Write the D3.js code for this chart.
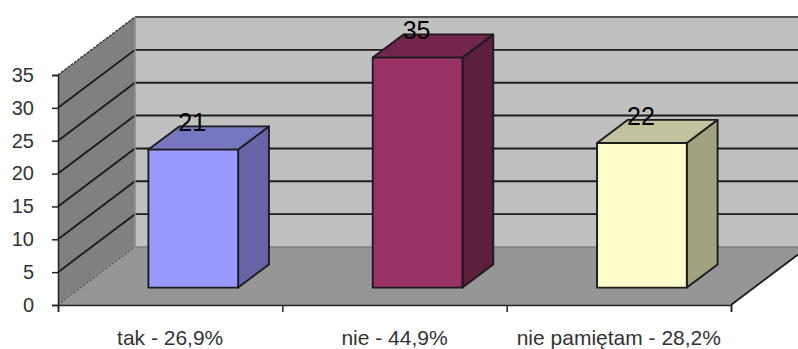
<!DOCTYPE html>
<html>
<head>
<meta charset="utf-8">
<script src="https://cdn.jsdelivr.net/npm/d3@7"></script>
<style>
  html, body { margin: 0; padding: 0; background: #fff; overflow: hidden; }
  text { font-family: "Liberation Sans", Arial, sans-serif; fill: #1a1a1a; }
</style>
</head>
<body>
<div id="chart-container"></div>
<script>
const categories = ["tak - 26,9%", "nie - 44,9%", "nie pamiętam - 28,2%"];
const values = [21, 35, 22];
const yTicks = [0, 5, 10, 15, 20, 25, 30, 35];

const frontColors = ["#9999ff", "#993366", "#ffffcc"];
const topColors = ["#7777c0", "#73264d", "#c2c29c"];
const sideColors = ["#6464a6", "#5e1f3e", "#a2a280"];

const width = 798;
const height = 349;

// oblique projection: how far the back plane is shifted from the front plane
const depthX = 77;
const depthY = 58;
const barFront = 0.3;
const barBack = 0.7;

const x = d3.scaleBand().domain(categories).range([58, 731]).paddingInner(0.6).paddingOuter(0.3);
const xEdge = d3.scaleLinear().domain([0, categories.length]).range([58, 731]);
const y = d3.scaleLinear().domain([0, 35]).range([305, 75]);

const svg = d3.select("#chart-container")
    .append("svg")
    .attr("width", width)
    .attr("height", height)
    .style("display", "block");

const poly = pts => pts.map(p => p.join(",")).join(" ");
const left = x.range()[0];
const right = x.range()[1];
const top35 = y(35);
const base = y(0);

// back wall
svg.append("polygon")
    .attr("points", poly([[left + depthX, top35 - depthY], [right + depthX, top35 - depthY], [right + depthX, base - depthY], [left + depthX, base - depthY]]))
    .attr("fill", "#c0c0c0");

// side wall
svg.append("polygon")
    .attr("points", poly([[left, top35], [left + depthX, top35 - depthY], [left + depthX, base - depthY], [left, base]]))
    .attr("fill", "#808080");

// floor
svg.append("polygon")
    .attr("points", poly([[left, base], [right, base], [right + depthX, base - depthY], [left + depthX, base - depthY]]))
    .attr("fill", "#969696");

// gridlines run along the side wall, then across the back wall
svg.selectAll(".grid")
    .data(yTicks.filter(d => d > 0 && d < 35))
    .join("polyline")
    .attr("class", "grid")
    .attr("fill", "none")
    .attr("stroke", "#1c1c1c")
    .attr("stroke-width", 1.9)
    .attr("points", d => poly([[left, y(d)], [left + depthX, y(d) - depthY], [right + depthX, y(d) - depthY]]));

// top edge of the walls
svg.append("polyline")
    .attr("fill", "none")
    .attr("stroke", "#333")
    .attr("stroke-width", 1.4)
    .attr("stroke-dasharray", "3,1")
    .attr("points", poly([[left, top35], [left + depthX, top35 - depthY]]));
svg.append("line")
    .attr("x1", left + depthX).attr("y1", top35 - depthY)
    .attr("x2", right + depthX).attr("y2", top35 - depthY)
    .attr("stroke", "#555")
    .attr("stroke-width", 1.8);

// wall and floor joins
svg.append("line")
    .attr("x1", left).attr("y1", base)
    .attr("x2", left + depthX).attr("y2", base - depthY)
    .attr("stroke", "#333")
    .attr("stroke-dasharray", "2,2");
svg.append("line")
    .attr("x1", left + depthX).attr("y1", base - depthY)
    .attr("x2", right + depthX).attr("y2", base - depthY)
    .attr("stroke", "#808080")
    .attr("stroke-width", 1.5);
svg.append("line")
    .attr("x1", left + depthX).attr("y1", top35 - depthY)
    .attr("x2", left + depthX).attr("y2", base - depthY)
    .attr("stroke", "#8c8c8c")
    .attr("stroke-width", 1.5);

// right edge of the floor
svg.append("polyline")
    .attr("fill", "none")
    .attr("stroke", "#1c1c1c")
    .attr("stroke-width", 1.8)
    .attr("points", poly([[right, base], [right + depthX, base - depthY]]));

// bars
const bars = svg.selectAll(".bar")
    .data(categories.map((c, i) => ({ c, i, v: values[i] })))
    .join("g")
    .attr("class", "bar")
    .attr("stroke", "#1c1c1c")
    .attr("stroke-width", 1.9)
    .attr("stroke-linejoin", "round");

const fx = d => x(d.c) + barFront * depthX;
const fw = x.bandwidth();
const fb = base - barFront * depthY;
const ft = d => y(d.v) - barFront * depthY;
const dx = (barBack - barFront) * depthX;
const dy = (barBack - barFront) * depthY;

bars.append("polygon")
    .attr("fill", d => sideColors[d.i])
    .attr("points", d => poly([[fx(d) + fw, ft(d)], [fx(d) + fw + dx, ft(d) - dy], [fx(d) + fw + dx, fb - dy], [fx(d) + fw, fb]]));
bars.append("polygon")
    .attr("fill", d => topColors[d.i])
    .attr("points", d => poly([[fx(d), ft(d)], [fx(d) + dx, ft(d) - dy], [fx(d) + fw + dx, ft(d) - dy], [fx(d) + fw, ft(d)]]));
bars.append("rect")
    .attr("fill", d => frontColors[d.i])
    .attr("x", fx)
    .attr("y", ft)
    .attr("width", fw)
    .attr("height", d => fb - ft(d));

// value labels
svg.selectAll(".value")
    .data(categories.map((c, i) => ({ c, i, v: values[i] })))
    .join("text")
    .attr("class", "value")
    .attr("text-anchor", "middle")
    .attr("font-size", 25)
    .style("fill", "#000")
    .attr("x", d => fx(d) + fw / 2 - 1)
    .attr("y", d => ft(d) - 18.5)
    .text(d => d.v);

// axes
const yAxis = svg.append("g")
    .attr("transform", `translate(${left},0)`)
    .call(d3.axisLeft(y).tickValues(yTicks).tickSize(6).tickPadding(18));
yAxis.selectAll("path, line").attr("stroke", "#222").attr("stroke-width", 1.5);
yAxis.selectAll("text").attr("font-size", 20).attr("font-family", null).style("fill", "#333");

const xAxis = svg.append("g")
    .attr("transform", `translate(0,${base})`)
    .call(d3.axisBottom(xEdge).tickValues([0, 1, 2, 3]).tickSize(7).tickFormat(""));
xAxis.selectAll("path, line").attr("stroke", "#222").attr("stroke-width", 1.5);

// category names sit just above the bottom edge so the descenders stay visible
svg.selectAll(".category")
    .data(categories)
    .join("text")
    .attr("class", "category")
    .attr("text-anchor", "middle")
    .attr("font-size", 21)
    .style("fill", "#333")
    .attr("x", d => x(d) + fw / 2)
    .attr("y", 344.5)
    .text(d => d);
</script>
</body>
</html>
